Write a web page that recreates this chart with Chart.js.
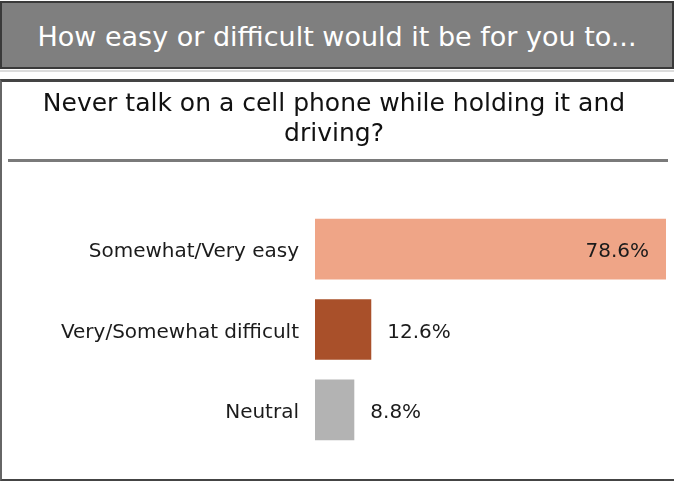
<!DOCTYPE html>
<html>
<head>
<meta charset="utf-8">
<script src="https://cdn.jsdelivr.net/npm/chart.js@4"></script>
<style>
  body { margin: 0; background: #fff; width: 674px; height: 482px; position: relative; overflow: hidden; font-family: "DejaVu Sans", sans-serif; }
  #header {
    position: absolute; left: 0; top: 1px; width: 674px; height: 68px; box-sizing: border-box;
    background: #7f7f7f; border: 2px solid #3a3a3a; color: #fff;
    font-size: 27px; line-height: 68px; text-align: center; overflow: hidden;
  }
  #sep { position: absolute; left: 0; top: 70px; width: 674px; height: 2px; background: #dcdcdc; }
  #panel {
    position: absolute; left: 0; top: 79px; width: 674px; height: 402px; box-sizing: border-box;
    border-top: 3px solid #444; border-left: 2px solid #666; border-bottom: 2px solid #444;
  }
  #rule { position: absolute; left: 8px; top: 159px; width: 660px; height: 3px; background: #7a7a7a; }
  #wrap { position: absolute; left: 2px; top: 82px; width: 672px; height: 396px; }
</style>
</head>
<body>
<div id="header">How easy or difficult would it be for you to...</div>
<div id="sep"></div>
<div id="panel"></div>
<div id="wrap"><canvas id="chart"></canvas></div>
<div id="rule"></div>
<script>
(function() {
    const titleLines = ['Never talk on a cell phone while holding it and', 'driving?'];
    const categories = ['Somewhat/Very easy', 'Very/Somewhat difficult', 'Neutral'];
    const values = [78.6, 12.6, 8.8];
    const barColors = ['#efa587', '#a9502a', '#b3b3b3'];

    const valueLabels = {
        id: 'valueLabels',
        afterDatasetsDraw(chart) {
            const ctx = chart.ctx;
            const meta = chart.getDatasetMeta(0);
            ctx.save();
            ctx.font = '20px "DejaVu Sans"';
            ctx.fillStyle = '#1b1b1b';
            ctx.textBaseline = 'middle';
            meta.data.forEach((bar, i) => {
                const text = values[i].toFixed(1) + '%';
                if (i === 0) {
                    ctx.textAlign = 'right';
                    ctx.fillText(text, bar.x - 17, bar.y + 3);
                } else {
                    ctx.textAlign = 'left';
                    ctx.fillText(text, bar.x + 16, bar.y + 3);
                }
            });
            ctx.restore();
        }
    };

    new Chart(document.getElementById('chart').getContext('2d'), {
        type: 'bar',
        data: {
            labels: categories,
            datasets: [{
                data: values,
                backgroundColor: barColors,
                borderWidth: 0,
                categoryPercentage: 1,
                barPercentage: 0.755
            }]
        },
        options: {
            indexAxis: 'y',
            responsive: true,
            maintainAspectRatio: false,
            animation: false,
            layout: { padding: { left: 0, right: 8, top: 0, bottom: 22 } },
            scales: {
                x: { display: false, min: 0, max: 78.6 },
                y: {
                    grid: { display: false, drawTicks: false },
                    border: { display: false },
                    ticks: { color: '#1b1b1b', font: { family: 'DejaVu Sans', size: 20 }, padding: 16, labelOffset: 3 },
                    afterFit: (scale) => { scale.width = 313; }
                }
            },
            plugins: {
                legend: { display: false },
                tooltip: { enabled: false },
                title: {
                    display: true,
                    text: titleLines,
                    color: '#111',
                    font: { family: 'DejaVu Sans', size: 25, weight: 'normal', lineHeight: 1.2 },
                    padding: { top: 7, bottom: 60 }
                }
            }
        },
        plugins: [valueLabels]
    });
})();
</script>
</body>
</html>
